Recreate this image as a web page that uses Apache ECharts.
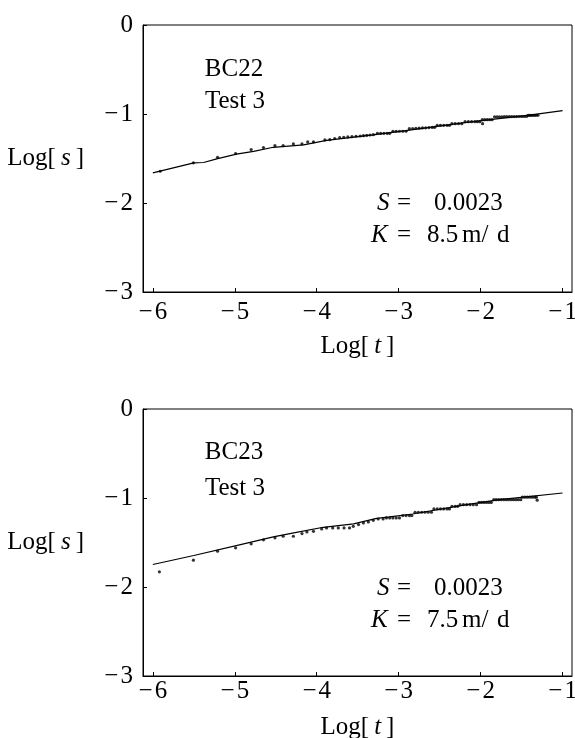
<!DOCTYPE html>
<html>
<head>
<meta charset="utf-8">
<title>BC22 / BC23 Test 3</title>
<script src="https://cdn.jsdelivr.net/npm/echarts@6/dist/echarts.min.js"></script>
<style>
  html, body { margin: 0; padding: 0; background: #fff; }
  #chart { width: 575px; height: 738px; }
</style>
</head>
<body>
<div id="chart"></div>
<script>
// ticks shared by both panels
const xTicks = [-6, -5, -4, -3, -2, -1]
const yTicks = [0, -1, -2, -3]

// BC22 fitted curve (Log[t], Log[s])
const bc22FitT = [-6, -5.5, -5.38, -5.22, -4.98, -4.77, -4.53, -4.16, -3.88, -3.31, -2.98, -2.17, -1.36, -1.0]
const bc22FitS = [-1.661, -1.549, -1.545, -1.504, -1.45, -1.419, -1.374, -1.347, -1.296, -1.235, -1.195, -1.094, -1.008, -0.962]

// BC22 measured points
const bc22DataT = [
  -5.91, -5.505, -5.21, -4.99, -4.80, -4.65, -4.51, -4.41, -4.285, -4.18, -4.11, -4.04, -3.90, -3.84,
  -3.78, -3.72, -3.67, -3.62, -3.57, -3.52, -3.47, -3.43, -3.39, -3.35, -3.31,
  -3.26, -3.22, -3.18, -3.14, -3.11,
  -3.07, -3.03, -2.99, -2.95, -2.91,
  -2.87, -2.83, -2.79, -2.75, -2.71, -2.67, -2.63, -2.59, -2.56,
  -2.53, -2.49, -2.45, -2.41, -2.38,
  -2.35, -2.31, -2.27, -2.23,
  -2.19, -2.15, -2.11, -2.07, -2.04, -2.01,
  -1.976,
  -1.98, -1.95, -1.92, -1.89, -1.86,
  -1.83, -1.80, -1.77, -1.74, -1.71, -1.68, -1.65, -1.62, -1.59, -1.56, -1.53, -1.50, -1.47, -1.44,
  -1.42, -1.40, -1.38, -1.36, -1.34, -1.32, -1.30
]
const bc22DataS = [
  -1.643, -1.549, -1.486, -1.445, -1.400, -1.377, -1.355, -1.355, -1.336, -1.336, -1.314, -1.314, -1.291, -1.288,
  -1.275, -1.265, -1.262, -1.258, -1.255, -1.250, -1.247, -1.243, -1.240, -1.236, -1.232,
  -1.217, -1.217, -1.217, -1.217, -1.217,
  -1.194, -1.194, -1.194, -1.194, -1.194,
  -1.165, -1.163, -1.161, -1.159, -1.157, -1.155, -1.153, -1.151, -1.150,
  -1.127, -1.127, -1.127, -1.127, -1.127,
  -1.109, -1.109, -1.109, -1.109,
  -1.086, -1.086, -1.086, -1.086, -1.086, -1.086,
  -1.109,
  -1.064, -1.064, -1.064, -1.064, -1.064,
  -1.032, -1.032, -1.031, -1.031, -1.030, -1.030, -1.030, -1.029, -1.029, -1.029, -1.028, -1.028, -1.028, -1.027,
  -1.016, -1.016, -1.015, -1.015, -1.015, -1.014, -1.014
]

// BC23 fitted curve
const bc23FitT = [-6, -5.5, -4.93, -4.53, -4.28, -3.92, -3.55, -3.27, -3.11, -2.83, -2.17, -1.77, -1.0]
const bc23FitS = [-1.747, -1.646, -1.523, -1.437, -1.392, -1.329, -1.29, -1.228, -1.213, -1.18, -1.075, -1.019, -0.944]

// BC23 measured points
const bc23DataT = [
  -5.92, -5.505, -5.21, -4.99, -4.80, -4.65, -4.51, -4.41, -4.285, -4.18, -4.12, -4.04, -3.94, -3.88,
  -3.805, -3.737, -3.667, -3.60, -3.554, -3.49, -3.43, -3.37, -3.31, -3.25, -3.19,
  -3.15, -3.11, -3.07, -3.03, -2.99,
  -2.95, -2.91, -2.87, -2.84,
  -2.80, -2.76, -2.72, -2.68, -2.64, -2.60,
  -2.57, -2.53, -2.49, -2.45, -2.41, -2.38,
  -2.35, -2.31, -2.28,
  -2.25, -2.21, -2.17, -2.13, -2.09, -2.05,
  -2.02, -1.99, -1.96, -1.93, -1.90, -1.87,
  -1.84, -1.81, -1.78, -1.75, -1.72, -1.69, -1.66, -1.63, -1.60, -1.57, -1.54, -1.51,
  -1.49, -1.46, -1.43, -1.40, -1.37, -1.34, -1.32,
  -1.31
]
const bc23DataS = [
  -1.829, -1.699, -1.598, -1.560, -1.515, -1.470, -1.448, -1.430, -1.430, -1.400, -1.381, -1.374, -1.348, -1.336,
  -1.336, -1.336, -1.336, -1.336, -1.318, -1.299, -1.280, -1.269, -1.251, -1.236, -1.236,
  -1.224, -1.224, -1.224, -1.224, -1.224,
  -1.198, -1.198, -1.198, -1.198,
  -1.160, -1.160, -1.160, -1.160, -1.160, -1.160,
  -1.123, -1.123, -1.123, -1.123, -1.123, -1.123,
  -1.094, -1.094, -1.094,
  -1.075, -1.075, -1.075, -1.075, -1.075, -1.075,
  -1.050, -1.050, -1.050, -1.050, -1.050, -1.050,
  -1.019, -1.019, -1.019, -1.019, -1.019, -1.019, -1.019, -1.019, -1.019, -1.019, -1.019, -1.019,
  -0.991, -0.991, -0.991, -0.991, -0.991, -0.991, -0.991,
  -1.024
]

const font = 'Liberation Serif'
const size = 25
const rich = { i: { fontStyle: 'italic', fontFamily: font, fontSize: size, color: '#000' } }

function zip(xs, ys) {
  return xs.map((x, i) => [x, ys[i]])
}
function minus(v) {
  return v === 0 ? '0' : '\u2212\u200A' + Math.abs(v)
}

function xAxisFor(idx, labelMargin, nameGap) {
  return {
    type: 'value', gridIndex: idx, min: -6.12, max: -0.885,
    axisLine: { show: true, onZero: false, lineStyle: { color: '#000', width: 1 } },
    axisTick: { show: true, inside: true, length: 4, customValues: xTicks, lineStyle: { color: '#000' } },
    axisLabel: { customValues: xTicks, margin: labelMargin, formatter: minus, fontFamily: font, fontSize: size, color: '#000' },
    splitLine: { show: false },
    name: 'Log[\u2009{i|t}\u2009]', nameLocation: 'middle', nameGap: nameGap,
    nameTextStyle: { fontFamily: font, fontSize: size, color: '#000', rich: rich },
  }
}
function yAxisFor(idx) {
  return {
    type: 'value', gridIndex: idx, min: -3, max: 0,
    axisLine: { show: true, onZero: false, lineStyle: { color: '#000', width: 1 } },
    axisTick: { show: true, inside: true, length: 4, customValues: yTicks, lineStyle: { color: '#000' } },
    axisLabel: { customValues: yTicks, margin: 10, formatter: minus, fontFamily: font, fontSize: size, color: '#000' },
    splitLine: { show: false },
    name: 'Log[\u2009{i|s}\u2009]', nameLocation: 'middle', nameRotate: 0, nameGap: 59,
    nameTextStyle: { fontFamily: font, fontSize: size, color: '#000', rich: rich },
  }
}
function label(text, x, y, align) {
  return {
    type: 'text', x: x, y: y, silent: true,
    style: {
      text: text, rich: rich, fontFamily: font, fontSize: size, fill: '#000',
      align: align || 'left', verticalAlign: 'middle', textAlign: align || 'left', textVerticalAlign: 'middle',
    },
  }
}
// "S = ..." and "K = ..." lines, pieces placed like the original layout
function params(dy, kValue) {
  return [
    label('{i|S}', 377, 203 + dy), label('=', 397, 203 + dy), label('0.0023', 434, 203 + dy),
    label('{i|K}', 371, 235 + dy), label('=', 397, 235 + dy), label(kValue, 427, 235 + dy),
    label('m/', 462, 235 + dy), label('d', 497, 235 + dy),
  ]
}

const chart = echarts.init(document.getElementById('chart'))
chart.setOption({
  animation: false,
  backgroundColor: '#fff',
  grid: [
    { left: 143, top: 25, width: 429, height: 267, show: true, borderColor: '#000', borderWidth: 1, outerBoundsMode: 'none' },
    { left: 143, top: 409, width: 429, height: 267, show: true, borderColor: '#000', borderWidth: 1, outerBoundsMode: 'none' },
  ],
  xAxis: [xAxisFor(0, 8, 42), xAxisFor(1, 3, 39)],
  yAxis: [yAxisFor(0), yAxisFor(1)],
  graphic: [
    label('BC22', 234, 69, 'center'),
    label('Test 3', 235, 101, 'center'),
    label('BC23', 234, 452, 'center'),
    label('Test 3', 235, 488, 'center'),
  ].concat(params(0, '8.5'), params(385, '7.5')),
  series: [
    { type: 'line', xAxisIndex: 0, yAxisIndex: 0, data: zip(bc22FitT, bc22FitS), symbol: 'none', lineStyle: { color: '#000', width: 1.2 } },
    { type: 'scatter', xAxisIndex: 0, yAxisIndex: 0, data: zip(bc22DataT, bc22DataS), symbolSize: 3.2, itemStyle: { color: '#000' } },
    { type: 'line', xAxisIndex: 1, yAxisIndex: 1, data: zip(bc23FitT, bc23FitS), symbol: 'none', lineStyle: { color: '#000', width: 1.2 } },
    { type: 'scatter', xAxisIndex: 1, yAxisIndex: 1, data: zip(bc23DataT, bc23DataS), symbolSize: 3.2, itemStyle: { color: '#000' } },
  ],
})
</script>
</body>
</html>
